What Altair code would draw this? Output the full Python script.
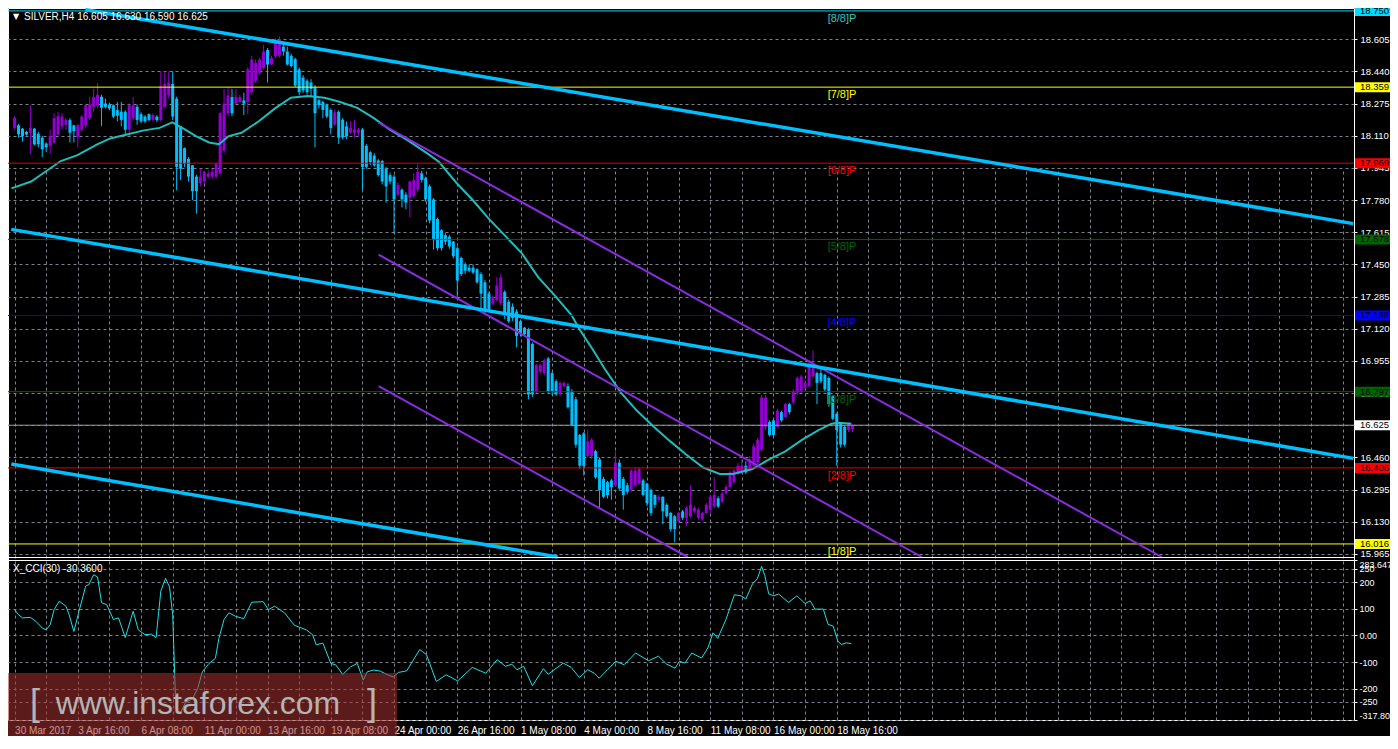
import altair as alt
import pandas as pd

# ---------------- data ----------------
date_labels = ["30 Mar 2017", "3 Apr 16:00", "6 Apr 08:00", "11 Apr 00:00", "13 Apr 16:00",
               "19 Apr 08:00", "24 Apr 00:00", "26 Apr 16:00", "1 May 08:00", "4 May 00:00",
               "8 May 16:00", "11 May 08:00", "16 May 00:00", "18 May 16:00"]

opens = [
    18.150, 18.163, 18.146, 18.130, 18.125, 18.146, 18.120, 18.100, 18.070, 18.058,
    18.075, 18.116, 18.158, 18.166, 18.190, 18.163, 18.103, 18.141, 18.161, 18.200,
    18.258, 18.263, 18.310, 18.275, 18.270, 18.266, 18.241, 18.233, 18.233, 18.141,
    18.200, 18.258, 18.220, 18.208, 18.220, 18.191, 18.208, 18.191, 18.258, 18.316,
    18.375, 18.300, 18.158, 18.046, 17.991, 17.958, 17.900, 17.866, 17.875, 17.900,
    17.900, 17.900, 17.916, 18.033, 18.225, 18.308, 18.275, 18.283, 18.291, 18.283,
    18.333, 18.390, 18.433, 18.458, 18.550, 18.475, 18.517, 18.520, 18.567, 18.542,
    18.520, 18.503, 18.450, 18.408, 18.392, 18.383, 18.358, 18.292, 18.283, 18.267,
    18.242, 18.167, 18.233, 18.192, 18.158, 18.125, 18.125, 18.125, 18.142, 18.058,
    18.025, 18.008, 17.983, 17.980, 17.942, 17.908, 17.900, 17.808, 17.833, 17.808,
    17.792, 17.800, 17.833, 17.917, 17.892, 17.850, 17.783, 17.683, 17.625, 17.600,
    17.592, 17.567, 17.533, 17.483, 17.450, 17.433, 17.433, 17.425, 17.400, 17.358,
    17.300, 17.250, 17.267, 17.250, 17.308, 17.258, 17.233, 17.208, 17.158, 17.125,
    17.117, 17.042, 16.800, 16.900, 16.892, 16.967, 16.892, 16.850, 16.783, 16.825,
    16.825, 16.800, 16.758, 16.575, 16.583, 16.467, 16.467, 16.492, 16.450, 16.350,
    16.333, 16.342, 16.317, 16.433, 16.350, 16.317, 16.292, 16.317, 16.325, 16.342,
    16.325, 16.292, 16.267, 16.242, 16.258, 16.217, 16.175, 16.158, 16.133, 16.183,
    16.150, 16.158, 16.183, 16.150, 16.142, 16.175, 16.192, 16.208, 16.250, 16.233,
    16.275, 16.308, 16.333, 16.375, 16.383, 16.417, 16.400, 16.417, 16.433, 16.500,
    16.617, 16.642, 16.650, 16.617, 16.692, 16.667, 16.733, 16.742, 16.792, 16.800,
    16.817, 16.825, 16.875, 16.892, 16.892, 16.883, 16.867, 16.775, 16.683, 16.633,
    16.617, 16.600, 16.605]

highs = [
    18.210, 18.170, 18.150, 18.135, 18.266, 18.150, 18.130, 18.110, 18.075, 18.140,
    18.225, 18.233, 18.225, 18.200, 18.200, 18.166, 18.170, 18.215, 18.275, 18.310,
    18.350, 18.380, 18.320, 18.300, 18.280, 18.270, 18.283, 18.283, 18.240, 18.275,
    18.308, 18.270, 18.230, 18.215, 18.225, 18.225, 18.215, 18.440, 18.440, 18.440,
    18.440, 18.310, 18.160, 18.050, 18.000, 17.960, 17.910, 17.941, 17.930, 17.930,
    17.940, 17.970, 18.230, 18.350, 18.358, 18.350, 18.350, 18.320, 18.330, 18.460,
    18.520, 18.500, 18.510, 18.575, 18.560, 18.520, 18.610, 18.620, 18.580, 18.567,
    18.530, 18.510, 18.460, 18.420, 18.400, 18.400, 18.370, 18.300, 18.290, 18.275,
    18.250, 18.245, 18.240, 18.200, 18.183, 18.183, 18.192, 18.150, 18.150, 18.067,
    18.030, 18.020, 17.990, 17.985, 17.950, 17.920, 17.910, 17.870, 17.840, 17.820,
    17.880, 17.917, 17.967, 17.930, 17.900, 17.860, 17.790, 17.690, 17.630, 17.610,
    17.600, 17.570, 17.540, 17.490, 17.460, 17.450, 17.450, 17.430, 17.410, 17.370,
    17.310, 17.290, 17.383, 17.400, 17.317, 17.270, 17.250, 17.220, 17.167, 17.130,
    17.125, 17.050, 16.940, 16.940, 16.967, 16.975, 16.900, 16.860, 16.850, 16.850,
    16.840, 16.810, 16.770, 16.580, 16.590, 16.600, 16.560, 16.500, 16.460, 16.360,
    16.340, 16.350, 16.492, 16.450, 16.360, 16.330, 16.400, 16.410, 16.410, 16.350,
    16.330, 16.300, 16.270, 16.270, 16.260, 16.225, 16.180, 16.165, 16.180, 16.190,
    16.210, 16.317, 16.210, 16.200, 16.180, 16.225, 16.265, 16.358, 16.260, 16.285,
    16.320, 16.390, 16.400, 16.430, 16.450, 16.440, 16.467, 16.530, 16.560, 16.780,
    16.780, 16.650, 16.660, 16.710, 16.700, 16.740, 16.740, 16.810, 16.875, 16.885,
    16.860, 16.958, 17.008, 16.900, 16.925, 16.890, 16.875, 16.780, 16.690, 16.640,
    16.625, 16.640, 16.630]

lows = [
    18.140, 18.100, 18.080, 18.110, 18.016, 18.060, 18.050, 18.000, 18.025, 18.016,
    18.066, 18.110, 18.140, 18.140, 18.075, 18.075, 18.050, 18.130, 18.150, 18.190,
    18.233, 18.250, 18.160, 18.250, 18.240, 18.200, 18.183, 18.158, 18.108, 18.108,
    18.190, 18.166, 18.175, 18.175, 18.185, 18.185, 18.180, 18.183, 18.250, 18.300,
    18.190, 17.830, 17.883, 17.950, 17.875, 17.780, 17.710, 17.850, 17.860, 17.890,
    17.890, 17.890, 17.910, 18.020, 18.210, 18.210, 18.270, 18.280, 18.216, 18.220,
    18.320, 18.380, 18.420, 18.450, 18.383, 18.470, 18.510, 18.510, 18.520, 18.470,
    18.460, 18.360, 18.317, 18.330, 18.320, 18.308, 18.050, 18.250, 18.200, 18.200,
    18.117, 18.160, 18.067, 18.090, 18.092, 18.120, 18.100, 18.110, 17.833, 17.940,
    17.960, 17.950, 17.900, 17.860, 17.767, 17.860, 17.608, 17.800, 17.742, 17.733,
    17.692, 17.790, 17.820, 17.870, 17.770, 17.660, 17.525, 17.520, 17.520, 17.550,
    17.530, 17.480, 17.283, 17.390, 17.400, 17.410, 17.400, 17.350, 17.225, 17.200,
    17.210, 17.240, 17.260, 17.240, 17.170, 17.150, 17.160, 17.025, 17.080, 17.080,
    16.758, 16.770, 16.790, 16.890, 16.880, 16.790, 16.780, 16.775, 16.775, 16.820,
    16.710, 16.620, 16.510, 16.400, 16.367, 16.460, 16.450, 16.350, 16.200, 16.250,
    16.250, 16.242, 16.310, 16.290, 16.192, 16.270, 16.280, 16.310, 16.317, 16.260,
    16.210, 16.160, 16.200, 16.230, 16.117, 16.150, 16.080, 16.025, 16.125, 16.140,
    16.108, 16.150, 16.175, 16.140, 16.135, 16.170, 16.175, 16.200, 16.200, 16.225,
    16.270, 16.300, 16.325, 16.370, 16.375, 16.375, 16.390, 16.410, 16.425, 16.490,
    16.600, 16.567, 16.567, 16.610, 16.640, 16.660, 16.680, 16.730, 16.780, 16.790,
    16.810, 16.820, 16.870, 16.733, 16.840, 16.800, 16.720, 16.650, 16.417, 16.510,
    16.515, 16.590, 16.590]

closes = [
    18.203, 18.117, 18.108, 18.116, 18.150, 18.066, 18.066, 18.040, 18.050, 18.108,
    18.200, 18.210, 18.208, 18.190, 18.125, 18.133, 18.163, 18.208, 18.266, 18.270,
    18.308, 18.320, 18.253, 18.258, 18.250, 18.208, 18.213, 18.191, 18.141, 18.266,
    18.266, 18.191, 18.183, 18.183, 18.191, 18.216, 18.190, 18.366, 18.375, 18.383,
    18.208, 17.950, 17.941, 17.966, 17.900, 17.825, 17.825, 17.900, 17.925, 17.916,
    17.925, 17.966, 18.225, 18.275, 18.316, 18.225, 18.308, 18.308, 18.275, 18.450,
    18.500, 18.483, 18.500, 18.542, 18.475, 18.508, 18.590, 18.600, 18.542, 18.475,
    18.467, 18.367, 18.333, 18.342, 18.333, 18.350, 18.225, 18.267, 18.242, 18.208,
    18.150, 18.230, 18.100, 18.100, 18.108, 18.150, 18.142, 18.142, 17.950, 17.950,
    17.975, 17.958, 17.908, 17.875, 17.850, 17.875, 17.783, 17.858, 17.783, 17.767,
    17.875, 17.883, 17.925, 17.883, 17.783, 17.675, 17.575, 17.533, 17.533, 17.567,
    17.542, 17.492, 17.367, 17.400, 17.417, 17.417, 17.408, 17.358, 17.300, 17.217,
    17.217, 17.283, 17.342, 17.383, 17.192, 17.158, 17.175, 17.083, 17.092, 17.092,
    16.783, 16.783, 16.933, 16.933, 16.958, 16.800, 16.800, 16.783, 16.842, 16.842,
    16.717, 16.625, 16.525, 16.417, 16.417, 16.542, 16.550, 16.358, 16.292, 16.258,
    16.267, 16.308, 16.433, 16.300, 16.267, 16.283, 16.392, 16.392, 16.400, 16.267,
    16.225, 16.175, 16.217, 16.258, 16.183, 16.158, 16.092, 16.092, 16.175, 16.150,
    16.200, 16.217, 16.200, 16.192, 16.175, 16.217, 16.258, 16.267, 16.208, 16.275,
    16.308, 16.383, 16.392, 16.417, 16.417, 16.383, 16.450, 16.517, 16.550, 16.767,
    16.767, 16.575, 16.575, 16.700, 16.650, 16.733, 16.692, 16.800, 16.867, 16.875,
    16.842, 16.925, 16.917, 16.842, 16.850, 16.808, 16.733, 16.658, 16.600, 16.525,
    16.525, 16.633, 16.625]

ma_bars = [-0.8, 4.2, 7.4, 11.7, 15.9, 20.9, 24.2, 28.4, 32.4, 36.7, 39.9, 42.4, 45.9, 49.2,
           51.7, 54.2, 57.4, 61.7, 65.9, 69.9, 74.2, 78.4, 82.4, 86.7, 90.9, 94.9, 99.2, 104.6,
           107.4, 111.7, 115.9, 120.0, 124.2, 128.4, 132.5, 136.7, 140.9, 142.9, 146.2, 149.2,
           153.4, 157.4, 161.7, 165.9, 169.9, 174.2, 178.4, 181.7, 186.7, 190.9, 194.9, 199.2,
           203.4, 206.7, 208.4, 211.7]
ma_vals = [17.84, 17.875, 17.92, 17.98, 18.01, 18.066, 18.096, 18.116, 18.136, 18.15, 18.178,
           18.15, 18.108, 18.075, 18.066, 18.108, 18.125, 18.183, 18.25, 18.305, 18.313, 18.305,
           18.283, 18.253, 18.20, 18.141, 18.09, 18.017, 17.975, 17.87, 17.78, 17.683, 17.595,
           17.505, 17.383, 17.29, 17.19, 17.117, 17.016, 16.917, 16.792, 16.70, 16.617, 16.542,
           16.475, 16.408, 16.375, 16.375, 16.40, 16.45, 16.49, 16.55, 16.60, 16.633, 16.638,
           16.633]

cci_bars = [0, 1, 2, 4, 5.4, 7, 8, 9, 10, 11.3, 13, 13.8, 15, 16.3, 18, 18.8, 20, 21, 22, 23.3,
            25, 26.3, 28, 30, 31.3, 33, 34.6, 35.8, 37, 38.2, 39.2, 40, 40.8, 41.8, 43.3, 45,
            46.3, 47.5, 49.2, 50.8, 51.7, 53, 54.2, 55.9, 58, 60, 62.9, 64.2, 65.8, 68.3, 70.8,
            73.8, 75.4, 76.3, 78, 80, 81.3, 83, 85, 86.7, 88.2, 89.2, 90.8, 92.5, 94.2, 95.8,
            97.1, 99.2, 102.5, 104.2, 106.7, 109.2, 112.1, 115.8, 119.2, 122.1, 124.2, 125.8,
            127.1, 128.8, 131, 133.8, 135, 138.8, 140.8, 142.9, 145, 146.7, 147.9, 150, 152.1,
            154.2, 157.1, 160.4, 162.9, 165, 167.1, 168.2, 169.6, 171.3, 173.8, 175.4, 176.7,
            177.9, 180, 182.1, 183.8, 185, 186.7, 187.9, 189, 189.8, 190.8, 192.1, 193.3, 195.8,
            197.9, 200, 201.3, 202.5, 204.6, 205.8, 207.1, 208.3, 209.2, 210.4, 211.7]
cci_vals = [97, 78, 66, 68, 53, 28, 21, 40, 97, 129, 110, 78, 15, 91, 186, 192, 228, 220, 123,
            116, 60, 66, -8, 91, 21, 3, 5, -8, 167, 215, 182, 78, -276, -295, -251, -238, -200,
            -137, -105, -86, -10, 60, 85, 72, 63, 125, 127, 97, 110, 85, 38, 21, 3, -35, -29,
            -105, -111, -147, -118, -105, -168, -137, -130, -134, -147, -156, -139, -133, -53,
            -72, -173, -148, -171, -120, -142, -91, -116, -108, -129, -116, -189, -125, -146,
            -104, -120, -158, -129, -142, -161, -129, -97, -110, -66, -95, -78, -108, -123, -97,
            -104, -66, -85, -47, 10, -11, 61, 153, 149, 137, 194, 213, 260, 225, 156, 149, 156,
            124, 149, 120, 130, 99, 99, 42, 35, -22, -34, -28, -30.36]

murrey_names = ["[8/8]P", "[7/8]P", "[6/8]P", "[5/8]P", "[4/8]P", "[3/8]P", "[2/8]P", "[1/8]P"]
murrey_prices = [18.750, 18.359, 17.969, 17.578, 17.188, 16.797, 16.406, 16.016]
murrey_line_colors = ["#00dcff", "#ffff00", "#e00000", "#006400", "#0000ff", "#006400", "#e00000", "#ffff00"]
murrey_text_colors = ["#30c8c8", "#ffff00", "#ff0000", "#006400", "#0000ff", "#006400", "#ff0000", "#ffff00"]

last_price = 16.625
box_prices = [18.750, 18.359, 17.969, 17.578, 17.188, 16.797, 16.625, 16.406, 16.016]
box_colors = ["#00dcff", "#ffff00", "#ff0000", "#006400", "#0000ff", "#006400", "#ffffff", "#ff0000", "#ffff00"]

price_ticks = [18.605, 18.440, 18.275, 18.110, 17.945, 17.780, 17.615, 17.450, 17.285, 17.120,
               16.955, 16.790, 16.625, 16.460, 16.295, 16.130, 15.965]
cci_ticks = [283.6475, 250, 200, 100, 0, -100, -200, -250, -317.806]

blue_ids = ["b1", "b1", "b2", "b2", "b3", "b3"]
blue_bars = [17.9, 338.7, -0.825, 338.7, -0.825, 137.4]
blue_prices = [18.7565, 17.659, 17.6295, 16.455, 16.4265, 15.949]

purple_ids = ["p1", "p1", "p2", "p2", "p3", "p3"]
purple_bars = [92.1, 290.2, 92.1, 229.5, 92.1, 170.3]
purple_prices = [18.1765, 15.949, 17.50, 15.949, 16.825, 15.949]

title_text = "SILVER,H4  16.605 16.630 16.590 16.625"
cci_title = "X_CCI(30) -30.3600"

# ---------------- tables ----------------
n = len(closes)
candles = pd.DataFrame({"bar": list(range(n)), "open": opens, "high": highs,
                        "low": lows, "close": closes})
candles["col"] = ["#9400D3" if c >= o else "#00BFFF" for o, c in zip(opens, closes)]
ma_df = pd.DataFrame({"bar": ma_bars, "val": ma_vals})
cci_df = pd.DataFrame({"bar": cci_bars, "val": cci_vals})
murrey_df = pd.DataFrame({"name": murrey_names, "price": murrey_prices,
                          "lc": murrey_line_colors, "tc": murrey_text_colors})
box_df = pd.DataFrame({"price": box_prices, "bg": box_colors,
                       "txt": ["%.3f" % p for p in box_prices]})
last_df = pd.DataFrame({"price": [last_price]})
blue_df = pd.DataFrame({"id": blue_ids, "bar": blue_bars, "price": blue_prices})
purple_df = pd.DataFrame({"id": purple_ids, "bar": purple_bars, "price": purple_prices})
one = pd.DataFrame({"k": [0]})

# ---------------- layout / styles ----------------
W, H = 1346, 712
MAIN_BOT, CCI_TOP = 549, 552
P_DOM = [15.949, 18.765]
C_DOM = [-317.806, 283.6475]
X_DOM = [-0.4, 337.6]
GRID = "#7c838d"
FONT = "Liberation Sans"

xscale = alt.Scale(domain=X_DOM, nice=False, zero=False)
arr = "[" + ",".join("'" + s + "'" for s in date_labels) + "]"
last_lab = 16 * (len(date_labels) - 1)
xaxis = alt.Axis(values=list(range(0, 337, 8)),
                 labelExpr=f"(datum.value % 16 == 0 && datum.value <= {last_lab}) ? {arr}[datum.value / 16] : ''",
                 grid=True, gridColor=GRID, gridDash=[3, 3], gridWidth=1, gridOpacity=1,
                 ticks=False, domain=False, labelColor="white", labelFont=FONT,
                 labelFontSize=10, labelAlign="left", labelPadding=5, labelOverlap=False,
                 title=None, orient="bottom")
pscale = alt.Scale(domain=P_DOM, range=[MAIN_BOT, 0], nice=False, zero=False)
paxis = alt.Axis(orient="right", values=price_ticks, format=".3f", grid=True, gridColor=GRID,
                 gridDash=[3, 3], gridOpacity=1, tickColor="white", tickSize=3, domain=False,
                 labelColor="white", labelFont=FONT, labelFontSize=9.5, labelPadding=3,
                 labelOverlap=False, title=None)
cscale = alt.Scale(domain=C_DOM, range=[H, CCI_TOP], nice=False, zero=False)
caxis = alt.Axis(orient="right", values=cci_ticks,
                 labelExpr="datum.value == 0 ? '0.00' : toString(datum.value)",
                 grid=True, gridColor=GRID, gridDash=[3, 3], gridOpacity=1, tickColor="white",
                 tickSize=3, domain=False, labelColor="white", labelFont=FONT,
                 labelFontSize=9, labelPadding=2, labelOverlap=False, labelFlush=True,
                 title=None)


def X(f):
    return alt.X(f, type="quantitative", scale=xscale, axis=xaxis)


def YP(f):
    return alt.Y(f, type="quantitative", scale=pscale, axis=paxis)


def YC(f):
    return alt.Y(f, type="quantitative", scale=cscale, axis=caxis)


BOX = "M-1,-0.2857L1,-0.2857L1,0.2857L-1,0.2857Z"

# ---------------- main panel ----------------
wicks = alt.Chart(candles).mark_rule(strokeWidth=1).encode(
    x=X("bar"), y=YP("low"), y2="high", color=alt.Color("col:N", scale=None))
bodies = alt.Chart(candles).mark_bar(size=3).encode(
    x=X("bar"), y=YP("open"), y2="close", color=alt.Color("col:N", scale=None))
ma_line = alt.Chart(ma_df).mark_line(color="#20bcbc", strokeWidth=2, clip=True).encode(
    x=X("bar"), y=YP("val"))
m_rules = alt.Chart(murrey_df).mark_rule(strokeWidth=1).encode(
    y=YP("price"), color=alt.Color("lc:N", scale=None))
last_rule = alt.Chart(last_df).mark_rule(strokeWidth=1, color="#8f99a3").encode(y=YP("price"))
blue_lines = alt.Chart(blue_df).mark_line(color="#00BFFF", strokeWidth=3.5, clip=True).encode(
    x=X("bar"), y=YP("price"), detail="id:N")
purple_lines = alt.Chart(purple_df).mark_line(color="#8A2BE2", strokeWidth=2, clip=True).encode(
    x=X("bar"), y=YP("price"), detail="id:N")
m_text = alt.Chart(murrey_df).mark_text(align="left", baseline="top", dy=2, font=FONT,
                                        fontSize=11).encode(
    x=alt.XDatum(205.7, type="quantitative", scale=xscale, axis=xaxis),
    y=YP("price"), text="name:N", color=alt.Color("tc:N", scale=None))
boxes = alt.Chart(box_df).mark_point(shape=BOX, size=1225, filled=True, opacity=1,
                                     strokeWidth=0).encode(
    x=alt.value(W + 18.5), y=YP("price"), color=alt.Color("bg:N", scale=None))
box_text = alt.Chart(box_df).mark_text(align="left", baseline="middle", font=FONT,
                                       fontSize=9.5, color="black").encode(
    x=alt.value(W + 6), y=YP("price"), text="txt:N")
title = alt.Chart(one).mark_text(align="left", baseline="middle", font=FONT, fontSize=10,
                                 color="white", text=title_text).encode(
    x=alt.value(16), y=alt.value(9))
tri = alt.Chart(one).mark_text(align="center", baseline="middle", font="DejaVu Sans",
                               fontSize=8, color="white", text="\u25bc").encode(
    x=alt.value(8), y=alt.value(9))
sep1 = alt.Chart(one).mark_rule(color="white", strokeWidth=1).encode(
    x=alt.value(0), x2=alt.value(W), y=alt.value(MAIN_BOT + 0.5))
sep2 = alt.Chart(one).mark_rule(color="white", strokeWidth=1).encode(
    x=alt.value(0), x2=alt.value(W), y=alt.value(CCI_TOP + 0.5))

main = alt.layer(wicks, bodies, ma_line, m_rules, last_rule, purple_lines, blue_lines,
                 m_text, boxes, box_text, title, tri, sep1, sep2)

# ---------------- CCI panel ----------------
cci_line = alt.Chart(cci_df).mark_line(color="#1ee0e6", strokeWidth=1).encode(
    x=X("bar"), y=YC("val"))
cci_lbl = alt.Chart(one).mark_text(align="left", baseline="middle", font=FONT, fontSize=10,
                                   color="white", text=cci_title).encode(
    x=alt.value(5), y=alt.value(CCI_TOP + 9))
wm_rect = alt.Chart(one).mark_rect(color="#a83232", opacity=0.55).encode(
    x=alt.value(0), x2=alt.value(389), y=alt.value(665), y2=alt.value(740))
WMF = "Liberation Sans Narrow, Liberation Sans"
wm_text = alt.Chart(one).mark_text(align="center", baseline="alphabetic", font=WMF,
                                   fontSize=32, color="#b4b4b4",
                                   text="www.instaforex.com").encode(
    x=alt.value(190), y=alt.value(706))
wm_l = alt.Chart(one).mark_text(align="center", baseline="alphabetic", font=WMF,
                                fontSize=36, color="#b4b4b4", text="[").encode(
    x=alt.value(27), y=alt.value(707))
wm_r = alt.Chart(one).mark_text(align="center", baseline="alphabetic", font=WMF,
                                fontSize=36, color="#b4b4b4", text="]").encode(
    x=alt.value(364), y=alt.value(707))

cci = alt.layer(cci_line, cci_lbl, wm_rect, wm_text, wm_l, wm_r)

chart = alt.layer(main, cci).resolve_scale(y="independent").properties(
    width=W, height=H,
    autosize=alt.AutoSizeParams(type="none"),
    padding={"left": 0, "top": 0, "right": 36, "bottom": 16},
    background="black",
).configure_view(stroke="white", strokeWidth=1, fill="black")

chart.save("out.html", embed_options={"renderer": "svg", "actions": False})
